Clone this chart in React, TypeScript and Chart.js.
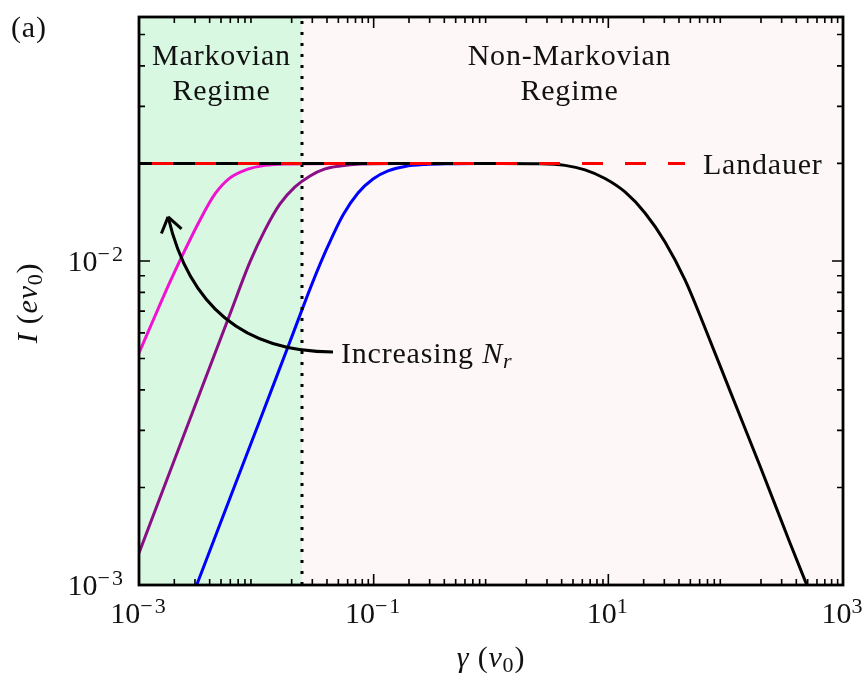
import React, { useEffect, useRef } from "react";
import { Chart, registerables } from "chart.js";

Chart.register(...registerables);

// ---------- data ----------
const xMin = 1e-3;
const xMax = 1e3;
const yMin = 1e-3;
const yMax = 0.0566;

const markovBoundary = 0.0245; // gamma where the dotted line sits
const landauerLevel = 0.02;
const landauerGamma = [0.001, 45];

const magentaGamma = [0.001, 0.001369, 0.001837, 0.002467, 0.003311, 0.004443, 0.005966, 0.008325, 0.011855, 0.01755, 0.05, 1];
const magentaI = [0.0052, 0.006763, 0.008612, 0.010814, 0.013384, 0.016096, 0.01804, 0.01916, 0.01972, 0.019925, 0.02, 0.02];

const purpleGamma = [0.001, 0.00272, 0.005966, 0.008831, 0.011855, 0.01591, 0.02136, 0.02867, 0.03848, 0.05164, 0.0765, 0.15, 1];
const purpleI = [0.001256, 0.003252, 0.006862, 0.009929, 0.012466, 0.014993, 0.01692, 0.018295, 0.019231, 0.019643, 0.019925, 0.02, 0.02];

const blueGamma = [0.003102, 0.005966, 0.010747, 0.019364, 0.030409, 0.04081, 0.05479, 0.07353, 0.09872, 0.1325, 0.1849, 0.274, 0.4473, 1];
const blueI = [0.001, 0.001856, 0.003229, 0.005643, 0.00865, 0.011124, 0.013868, 0.016212, 0.01791, 0.018958, 0.019573, 0.019852, 0.01996, 0.02];

const blackGamma = [0.001, 1.1934, 2.616, 4.273, 6.327, 9.369, 13.873, 20.54, 30.416, 45.03, 66.68, 108.9, 196.2, 353.5, 523.5];
const blackI = [0.02, 0.02, 0.01996, 0.01972, 0.019099, 0.01797, 0.016331, 0.014062, 0.011445, 0.008737, 0.006212, 0.003972, 0.00233, 0.001348, 0.000945];

// tick positions / labels
const xMajorTicks = [1e-3, 1e-1, 1e1, 1e3];
const xMajorExp = ["−3", "−1", "1", "3"];
const yMajorTicks = [1e-3, 1e-2];
const yMajorExp = ["−3", "−2"];
const xMinorDecades = [-3, -2, -1, 0, 1, 2];
const yMinorDecades = [-3, -2];
const minorSubs = [2, 3, 4, 5, 6, 7, 8, 9];

// annotation anchors (data space)
const arrowStart = { x: 0.045, y: 0.00524 };
const arrowCtrl = { x: 0.0033, y: 0.00524 };
const arrowTip = { x: 0.00177, y: 0.01368 };

// ---------- styles ----------
const SERIF = "'Liberation Serif', 'Times New Roman', serif";
const FS = 30;
const SUB = 22;
const LS = 0.8;
const greenBg = "#d9f8e1";
const pinkBg = "#fdf8f7";

type Seg = { t: string; it?: boolean; size?: number; dy?: number; ls?: number };

function fnt(size: number, italic?: boolean) {
  return `${italic ? "italic " : ""}${size}px ${SERIF}`;
}

function setSeg(ctx: CanvasRenderingContext2D, s: Seg) {
  ctx.font = fnt(s.size ?? FS, s.it);
  (ctx as any).letterSpacing = `${s.ls ?? LS}px`;
}

function drawRich(ctx: CanvasRenderingContext2D, segs: Seg[], x: number, y: number, align: "left" | "center" | "right") {
  let w = 0;
  const widths: number[] = [];
  for (const s of segs) {
    setSeg(ctx, s);
    const m = ctx.measureText(s.t).width;
    widths.push(m);
    w += m;
  }
  let cx = align === "left" ? x : align === "center" ? x - w / 2 : x - w;
  segs.forEach((s, i) => {
    setSeg(ctx, s);
    ctx.fillText(s.t, cx, y + (s.dy ?? 0));
    cx += widths[i];
  });
  (ctx as any).letterSpacing = "0px";
}

const toPts = (xs: number[], ys: number[]) => xs.map((x, i) => ({ x, y: ys[i] }));

const decor = {
  id: "decor",
  beforeDatasetsDraw(chart: any) {
    const { ctx, chartArea: a, scales } = chart;
    const xb = scales.x.getPixelForValue(markovBoundary);
    ctx.save();
    ctx.fillStyle = greenBg;
    ctx.fillRect(a.left, a.top, xb - a.left, a.bottom - a.top);
    ctx.fillStyle = pinkBg;
    ctx.fillRect(xb, a.top, a.right - xb, a.bottom - a.top);
    ctx.restore();
  },
  afterDatasetsDraw(chart: any) {
    const { ctx, chartArea: a, scales } = chart;
    const sx = scales.x, sy = scales.y;
    ctx.save();
    // curved arrow
    const p0 = { x: sx.getPixelForValue(arrowStart.x), y: sy.getPixelForValue(arrowStart.y) };
    const p1 = { x: sx.getPixelForValue(arrowCtrl.x), y: sy.getPixelForValue(arrowCtrl.y) };
    const p2 = { x: sx.getPixelForValue(arrowTip.x), y: sy.getPixelForValue(arrowTip.y) };
    ctx.strokeStyle = "#000";
    ctx.lineWidth = 3;
    ctx.lineCap = "butt";
    ctx.beginPath();
    ctx.moveTo(p0.x, p0.y);
    ctx.quadraticCurveTo(p1.x, p1.y, p2.x, p2.y);
    ctx.stroke();
    const dx = p1.x - p2.x, dy = p1.y - p2.y;
    const len = Math.hypot(dx, dy);
    const bx = dx / len, by = dy / len;
    const ang = (35 * Math.PI) / 180;
    const L = 18;
    ctx.beginPath();
    for (const sgn of [1, -1]) {
      const c = Math.cos(sgn * ang), s = Math.sin(sgn * ang);
      const rx = bx * c - by * s, ry = bx * s + by * c;
      ctx.moveTo(p2.x, p2.y);
      ctx.lineTo(p2.x + rx * L, p2.y + ry * L);
    }
    ctx.stroke();

    // texts
    ctx.fillStyle = "#111";
    ctx.textBaseline = "alphabetic";
    const xb = sx.getPixelForValue(markovBoundary);
    const mCx = (a.left + xb) / 2;
    const nCx = (xb + a.right) / 2 - 3;
    drawRich(ctx, [{ t: "Markovian" }], mCx + 1, a.top + 48, "center");
    drawRich(ctx, [{ t: "Regime" }], mCx + 1, a.top + 83, "center");
    drawRich(ctx, [{ t: "Non-Markovian" }], nCx, a.top + 48, "center");
    drawRich(ctx, [{ t: "Regime" }], nCx, a.top + 83, "center");
    drawRich(ctx, [{ t: "Landauer" }], sx.getPixelForValue(landauerGamma[1]) + 18, sy.getPixelForValue(landauerLevel) + 11, "left");
    drawRich(
      ctx,
      [{ t: "Increasing " }, { t: "N", it: true }, { t: "r", it: true, size: SUB, dy: 5 }],
      p0.x + 8,
      p0.y + 11,
      "left"
    );
    ctx.restore();
  },
  afterDraw(chart: any) {
    const { ctx, chartArea: a, scales } = chart;
    const sx = scales.x, sy = scales.y;
    ctx.save();
    ctx.strokeStyle = "#000";
    // ticks
    ctx.lineWidth = 1.6;
    ctx.beginPath();
    const minorLen = 6, majorLen = 11;
    for (const d of xMinorDecades) {
      for (const m of minorSubs) {
        const px = sx.getPixelForValue(m * Math.pow(10, d));
        ctx.moveTo(px, a.bottom);
        ctx.lineTo(px, a.bottom - minorLen);
        ctx.moveTo(px, a.top);
        ctx.lineTo(px, a.top + minorLen);
      }
    }
    for (const v of xMajorTicks) {
      const px = sx.getPixelForValue(v);
      ctx.moveTo(px, a.bottom);
      ctx.lineTo(px, a.bottom - majorLen);
      ctx.moveTo(px, a.top);
      ctx.lineTo(px, a.top + majorLen);
    }
    for (const d of yMinorDecades) {
      for (const m of minorSubs) {
        const v = m * Math.pow(10, d);
        if (v > yMax) continue;
        const py = sy.getPixelForValue(v);
        ctx.moveTo(a.left, py);
        ctx.lineTo(a.left + minorLen, py);
        ctx.moveTo(a.right, py);
        ctx.lineTo(a.right - minorLen, py);
      }
    }
    for (const v of yMajorTicks) {
      const py = sy.getPixelForValue(v);
      ctx.moveTo(a.left, py);
      ctx.lineTo(a.left + majorLen, py);
      ctx.moveTo(a.right, py);
      ctx.lineTo(a.right - majorLen, py);
    }
    ctx.stroke();
    // frame
    ctx.lineWidth = 2.8;
    ctx.strokeRect(a.left, a.top, a.right - a.left, a.bottom - a.top);

    // tick labels
    ctx.fillStyle = "#111";
    ctx.textBaseline = "alphabetic";
    xMajorTicks.forEach((v, i) => {
      const px = sx.getPixelForValue(v);
      drawRich(ctx, [{ t: "10", ls: 0 }, { t: xMajorExp[i], size: SUB, dy: -10, ls: 2 }], px, a.bottom + 38, "center");
    });
    yMajorTicks.forEach((v, i) => {
      const py = sy.getPixelForValue(v);
      drawRich(ctx, [{ t: "10", ls: 0 }, { t: yMajorExp[i], size: SUB, dy: -10, ls: 2 }], a.left - 14, py + 10, "right");
    });

    // axis titles
    drawRich(
      ctx,
      [{ t: "γ", it: true }, { t: " (" }, { t: "v", it: true }, { t: "0", size: SUB, dy: 5 }, { t: ")" }],
      (a.left + a.right) / 2,
      a.bottom + 82,
      "center"
    );
    ctx.save();
    ctx.translate(37, (a.top + a.bottom) / 2 + 2);
    ctx.rotate(-Math.PI / 2);
    drawRich(
      ctx,
      [{ t: "I", it: true }, { t: " (" }, { t: "ev", it: true }, { t: "0", size: SUB, dy: 5 }, { t: ")" }],
      0,
      0,
      "center"
    );
    ctx.restore();

    // panel label
    drawRich(ctx, [{ t: "(a)" }], 11, 37, "left");
    ctx.restore();
  },
};

export default function App() {
  const ref = useRef<HTMLCanvasElement>(null);
  useEffect(() => {
    const canvas = ref.current;
    if (!canvas) return;
    const line = { pointRadius: 0, fill: false, borderWidth: 3 };
    const chart = new Chart(canvas, {
      type: "line",
      data: {
        datasets: [
          {
            label: "Landauer",
            data: toPts(landauerGamma, landauerGamma.map(() => landauerLevel)),
            borderColor: "#ff0000",
            borderDash: [21, 22],
            borderDashOffset: 30,
            ...line,
          },
          {
            label: "Black",
            data: toPts(blackGamma, blackI),
            borderColor: "#000000",
            cubicInterpolationMode: "monotone",
            ...line,
          },
          {
            label: "Boundary",
            data: [
              { x: markovBoundary, y: yMin },
              { x: markovBoundary, y: yMax },
            ],
            borderColor: "#000000",
            borderDash: [3, 8],
            ...line,
          },
          {
            label: "Blue",
            data: toPts(blueGamma, blueI),
            borderColor: "#0000ff",
            cubicInterpolationMode: "monotone",
            ...line,
          },
          {
            label: "Purple",
            data: toPts(purpleGamma, purpleI),
            borderColor: "#8a0f86",
            cubicInterpolationMode: "monotone",
            ...line,
          },
          {
            label: "Magenta",
            data: toPts(magentaGamma, magentaI),
            borderColor: "#f012d2",
            cubicInterpolationMode: "monotone",
            ...line,
          },
        ] as any,
      },
      options: {
        responsive: false,
        devicePixelRatio: 1,
        animation: false,
        layout: { padding: { left: 139, right: 21, top: 17, bottom: 89 } },
        plugins: { legend: { display: false }, tooltip: { enabled: false } },
        scales: {
          x: { type: "logarithmic", min: xMin, max: xMax, display: false },
          y: { type: "logarithmic", min: yMin, max: yMax, display: false },
        },
      },
      plugins: [decor],
    });
    return () => chart.destroy();
  }, []);
  return (
    <div style={{ position: "absolute", left: 0, top: 0, width: 864, height: 674, background: "#fff" }}>
      <canvas ref={ref} width={864} height={674} style={{ display: "block" }} />
    </div>
  );
}
